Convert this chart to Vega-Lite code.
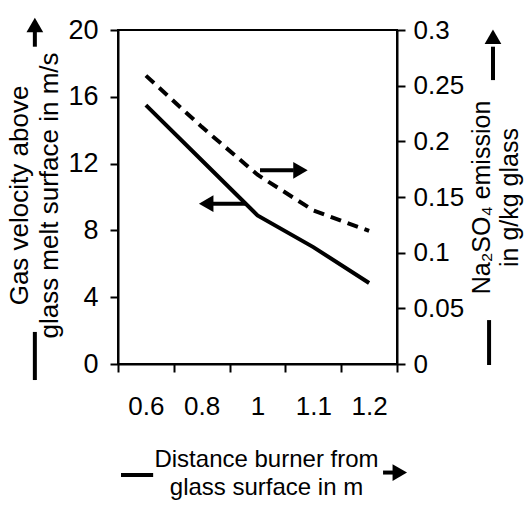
{
  "$schema": "https://vega.github.io/schema/vega-lite/v6.json",
  "width": 279,
  "height": 334,
  "autosize": {"type": "none"},
  "padding": {"left": 118, "top": 30, "right": 131, "bottom": 142},
  "background": "white",
  "config": {
    "font": "Liberation Sans",
    "view": {"stroke": "black", "strokeWidth": 2},
    "axis": {
      "domainColor": "black", "domainWidth": 2, "tickColor": "black", "tickWidth": 2, "tickSize": 8,
      "labelColor": "black", "labelFont": "Liberation Sans", "labelFontSize": 26,
      "titleColor": "black", "titleFont": "Liberation Sans", "titleFontWeight": "normal",
      "grid": false
    }
  },
  "datasets": {
    "curves": [
      {"distance": "0.6", "velocity": 15.5, "emission": 0.259},
      {"distance": "0.8", "velocity": 12.2, "emission": 0.213},
      {"distance": "1", "velocity": 8.9, "emission": 0.170},
      {"distance": "1.1", "velocity": 7.0, "emission": 0.138},
      {"distance": "1.2", "velocity": 4.85, "emission": 0.1195}
    ],
    "shafts": [
      {"x1": 2.545, "x2": 3.15, "y1": 11.6, "y2": 11.6},
      {"x1": 1.70, "x2": 2.28, "y1": 9.6, "y2": 9.6},
      {"x1": -1.49, "x2": -1.49, "y1": 19.0, "y2": 20.0},
      {"x1": -1.49, "x2": -1.49, "y1": -0.96, "y2": 1.92},
      {"x1": 6.72, "x2": 6.72, "y1": 17.0, "y2": 19.0},
      {"x1": 6.65, "x2": 6.65, "y1": -0.06, "y2": 2.63},
      {"x1": 0.054, "x2": 0.63, "y1": -6.65, "y2": -6.65},
      {"x1": 4.75, "x2": 4.93, "y1": -6.5, "y2": -6.5}
    ],
    "heads": [
      {"x": 3.27, "y": 11.6, "shape": "triangle-right"},
      {"x": 1.58, "y": 9.6, "shape": "triangle-left"},
      {"x": -1.49, "y": 20.3, "shape": "triangle-up"},
      {"x": 6.72, "y": 19.6, "shape": "triangle-up"},
      {"x": 5.05, "y": -6.5, "shape": "triangle-right"}
    ]
  },
  "layer": [
    {
      "data": {"name": "curves"},
      "mark": {"type": "line", "color": "black", "strokeWidth": 4},
      "encoding": {
        "x": {
          "field": "distance", "type": "ordinal", "sort": null,
          "scale": {"type": "band", "paddingInner": 0, "paddingOuter": 0},
          "axis": {
            "tickBand": "extent", "labelAngle": 0, "labelPadding": 21,
            "title": ["Distance burner from", "glass surface in m"],
            "titleFontSize": 24, "titleLineHeight": 28, "titlePadding": 28, "titleX": 148
          }
        },
        "y": {
          "field": "velocity", "type": "quantitative",
          "scale": {"domain": [0, 20], "nice": false},
          "axis": {
            "values": [0, 4, 8, 12, 16, 20], "labelPadding": 12, "labelFontSize": 27,
            "title": ["Gas velocity above\u00a0\u00a0\u00a0\u00a0\u00a0\u00a0\u00a0", "glass melt surface in m/s"],
            "titleFontSize": 26, "titleLineHeight": 30, "titleX": -86, "titleY": 165,
            "titleAngle": -90, "titleAlign": "center", "titleBaseline": "bottom"
          }
        }
      }
    },
    {
      "data": {"name": "curves"},
      "mark": {"type": "line", "color": "black", "strokeWidth": 4, "strokeDash": [11, 7]},
      "encoding": {
        "x": {
          "field": "distance", "type": "ordinal", "sort": null,
          "scale": {"type": "band", "paddingInner": 0, "paddingOuter": 0},
          "axis": null
        },
        "y": {
          "field": "emission", "type": "quantitative",
          "scale": {"domain": [0, 0.3], "nice": false},
          "axis": {
            "orient": "right", "values": [0, 0.05, 0.1, 0.15, 0.2, 0.25, 0.3], "format": "~g",
            "labelPadding": 8,
            "title": ["Na\u2082SO\u2084 emission\u00a0\u00a0\u00a0\u00a0", "in g/kg glass"],
            "titleFontSize": 25, "titleLineHeight": 28, "titleX": 72, "titleY": 167,
            "titleAngle": -90, "titleAlign": "center", "titleBaseline": "top"
          }
        }
      }
    },
    {
      "data": {"name": "shafts"},
      "mark": {"type": "rule", "color": "black", "strokeWidth": 4},
      "encoding": {
        "x": {"field": "x1", "type": "quantitative", "scale": {"domain": [0, 5], "nice": false, "zero": false}, "axis": null},
        "x2": {"field": "x2"},
        "y": {"field": "y1", "type": "quantitative", "scale": {"domain": [0, 20], "nice": false, "zero": false}, "axis": null},
        "y2": {"field": "y2"}
      }
    },
    {
      "data": {"name": "heads"},
      "mark": {"type": "point", "filled": true, "color": "black", "opacity": 1, "size": 280},
      "encoding": {
        "x": {"field": "x", "type": "quantitative", "scale": {"domain": [0, 5], "nice": false, "zero": false}, "axis": null},
        "y": {"field": "y", "type": "quantitative", "scale": {"domain": [0, 20], "nice": false, "zero": false}, "axis": null},
        "shape": {"field": "shape", "type": "nominal", "scale": null}
      }
    }
  ],
  "resolve": {"scale": {"x": "independent", "y": "independent"}}
}
